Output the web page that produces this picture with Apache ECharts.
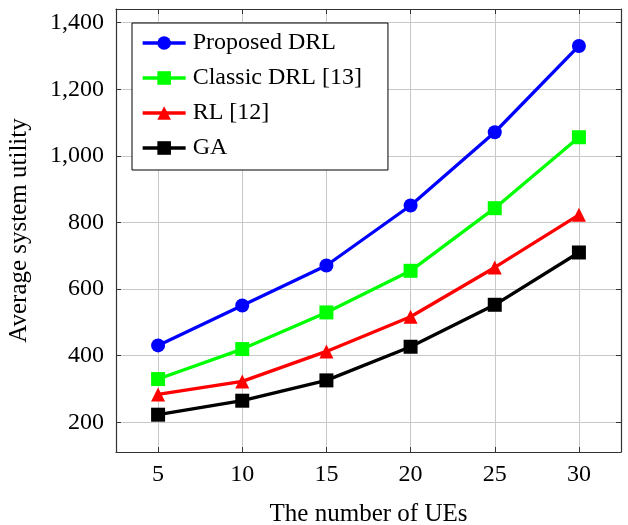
<!DOCTYPE html>
<html>
<head>
<meta charset="utf-8">
<script src="https://cdn.jsdelivr.net/npm/echarts@6/dist/echarts.min.js"></script>
<style>
  html, body { margin: 0; padding: 0; background: #fff; }
  #chart { width: 628px; height: 525px; }
</style>
</head>
<body>
<div id="chart"></div>
<script>
var ues = [5, 10, 15, 20, 25, 30];
var proposedDRL = [431, 551, 671, 851, 1071, 1330];
var classicDRL = [330, 420, 530, 655, 843, 1056];
var rl = [284, 323, 413, 517, 665, 823];
var ga = [223, 265, 326, 427, 553, 710];
var yTicks = [200, 400, 600, 800, 1000, 1200, 1400];

var chart = echarts.init(document.getElementById('chart'));
var font = 'Liberation Serif';

function pairs(vals) {
    return ues.map(function (x, i) { return [x, vals[i]]; });
}

function mkSeries(name, vals, color, symbol, size) {
    return {
        name: name,
        type: 'line',
        data: pairs(vals),
        symbol: symbol,
        symbolSize: size,
        lineStyle: { color: color, width: 3.3 },
        itemStyle: { color: color },
        z: 3
    };
}

var frame = { show: true, lineStyle: { color: '#333', width: 1.2 } };
var grid = { show: true, lineStyle: { color: '#c8c8c8', width: 1 } };

option = {
    animation: false,
    grid: { left: 116, right: 7, top: 9, bottom: 73, outerBoundsMode: 'none' },
    legend: {
        orient: 'vertical',
        left: 132,
        top: 23,
        padding: [8, 26, 10, 9],
        itemWidth: 43,
        itemHeight: 17,
        itemGap: 11,
        backgroundColor: '#fff',
        borderColor: '#000',
        borderWidth: 1,
        lineStyle: { width: 3.3 },
        textStyle: { fontFamily: font, fontSize: 24, color: '#000', padding: [0, 0, 0, 2], lineHeight: 24 },
        data: ['Proposed DRL', 'Classic DRL [13]', 'RL [12]', 'GA']
    },
    xAxis: [{
        type: 'value',
        min: 2.5,
        max: 32.5,
        name: 'The number of UEs',
        nameLocation: 'middle',
        nameGap: 50,
        nameTextStyle: { fontFamily: font, fontSize: 25, color: '#000' },
        axisLine: frame,
        axisTick: { show: true, inside: true, length: 5, customValues: ues, lineStyle: { color: '#333' } },
        axisLabel: { customValues: ues, fontFamily: font, fontSize: 24, color: '#000', margin: 11 },
        splitLine: grid
    }, {
        type: 'value',
        position: 'top',
        min: 2.5,
        max: 32.5,
        axisLine: frame,
        axisTick: { show: true, inside: true, length: 5, customValues: ues, lineStyle: { color: '#333' } },
        axisLabel: { show: false, customValues: ues },
        splitLine: { show: false }
    }],
    yAxis: [{
        type: 'value',
        min: 111,
        max: 1441,
        name: 'Average system utility',
        nameLocation: 'middle',
        nameGap: 84,
        nameTextStyle: { fontFamily: font, fontSize: 25, color: '#000' },
        axisLine: frame,
        axisTick: { show: true, inside: true, length: 5, customValues: yTicks, lineStyle: { color: '#333' } },
        axisLabel: {
            customValues: yTicks,
            fontFamily: font, fontSize: 24, color: '#000', margin: 12,
            formatter: function (v) { return v.toLocaleString('en-US'); }
        },
        splitLine: grid
    }, {
        type: 'value',
        position: 'right',
        min: 111,
        max: 1441,
        axisLine: frame,
        axisTick: { show: true, inside: true, length: 5, customValues: yTicks, lineStyle: { color: '#333' } },
        axisLabel: { show: false, customValues: yTicks },
        splitLine: { show: false }
    }],
    series: [
        mkSeries('Proposed DRL', proposedDRL, '#0000ff', 'circle', 14),
        mkSeries('Classic DRL [13]', classicDRL, '#00ff00', 'rect', 14),
        mkSeries('RL [12]', rl, '#ff0000', 'triangle', 14),
        mkSeries('GA', ga, '#000000', 'rect', 14)
    ]
};

chart.setOption(option);
</script>
</body>
</html>
